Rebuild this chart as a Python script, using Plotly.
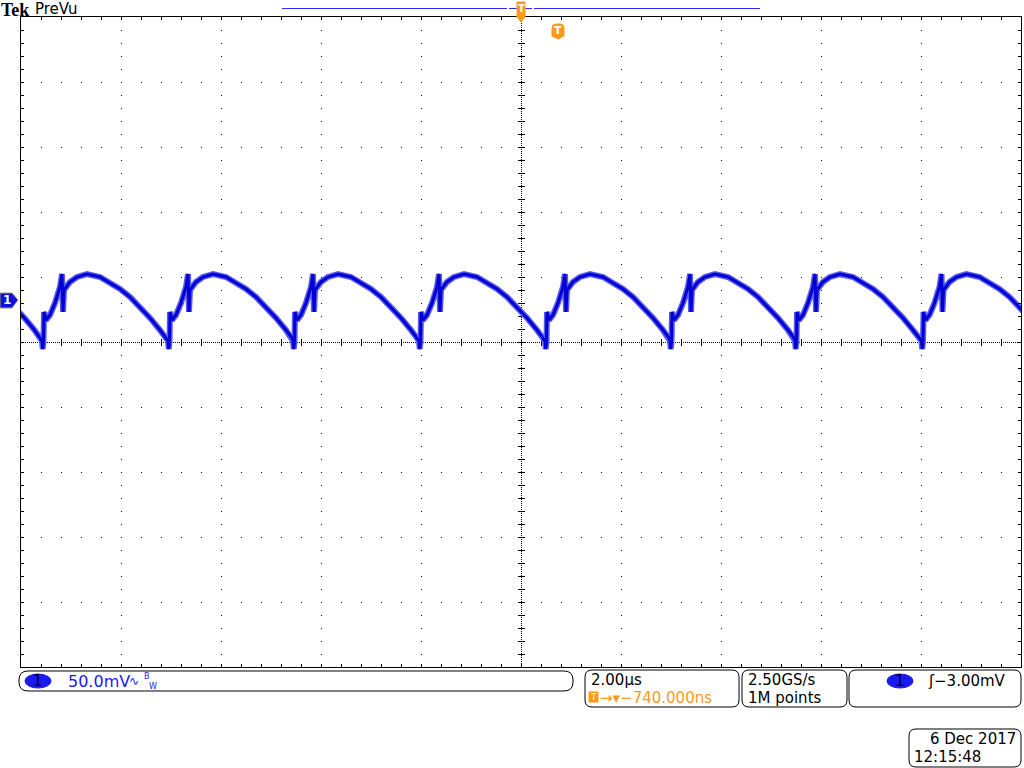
import plotly.graph_objects as go

# ---------------- data ----------------
TIME_PER_DIV_US = 2.0        # 2.00 µs/div, 10 divisions
MV_PER_DIV = 50.0            # 50.0 mV/div, 10 divisions
N_XDIV = 10
N_YDIV = 10
N_MINOR = 5

# one ripple cycle: time offset from a ripple minimum (µs) and level (mV, screen centre = 0)
cycle_dt_us = [0.000, 0.014, 0.030, 0.040, 0.080, 0.160, 0.260, 0.360, 0.400, 0.420,
               0.440, 0.560, 0.700, 0.900, 1.160, 1.360, 1.560, 1.760, 1.960, 2.160,
               2.360, 2.480]
cycle_mv = [0.8, -5.4, 0.0, 23.1, 16.9, 20.8, 30.0, 42.3, 52.3, 23.1,
            40.0, 46.2, 50.0, 52.3, 50.0, 45.4, 40.8, 34.6, 26.9, 18.5,
            9.2, 3.1]
# times of the ripple minima seen on screen (µs from screen centre)
minima_us = [-12.09, -9.58, -7.06, -4.56, -2.04, 0.48, 2.98, 5.48, 8.01, 10.52]

ch1_scale = "50.0mV"
timebase = "2.00µs"
trig_offset = "−740.000ns"
sample_rate = "2.50GS/s"
record_len = "1M points"
trig_level = "−3.00mV"
date_txt = "6 Dec 2017"
time_txt = "12:15:48"

# ---------------- build trace ----------------
t_us, v_mv = [], []
for m in minima_us:
    for dt, v in zip(cycle_dt_us, cycle_mv):
        t_us.append(m + dt)
        v_mv.append(v)

XR = TIME_PER_DIV_US * N_XDIV / 2
YR = MV_PER_DIV * N_YDIV / 2

L, T, W, H = 21, 17, 1000, 650
X_HALF = 0.5 * 2 * XR / W      # half a pixel in µs
Y_HALF = 0.5 * 2 * YR / H      # half a pixel in mV
XC, YC = X_HALF, -Y_HALF       # crisp centre lines


def P(x, y):
    return (x - L) / W, (T + H - y) / H


BLUE = "#1a1af2"
ORANGE = "#f89a1c"

fig = go.Figure()

# centre lines (dotted) as line traces
fig.add_trace(go.Scatter(x=[-XR, XR], y=[YC, YC], mode="lines", hoverinfo="skip",
                         line=dict(color="#000000", width=1, dash="1px,1px")))
fig.add_trace(go.Scatter(x=[XC, XC], y=[YR, -YR], mode="lines", hoverinfo="skip",
                         line=dict(color="#000000", width=1, dash="1px,1px")))

# centre-line minor crosses
xm = [(-XR + i * TIME_PER_DIV_US / N_MINOR) for i in range(1, N_XDIV * N_MINOR)]
ym = [(-YR + i * MV_PER_DIV / N_MINOR) for i in range(1, N_YDIV * N_MINOR)]
fig.add_trace(go.Scatter(x=[v + X_HALF for v in xm], y=[YC] * len(xm), mode="markers", hoverinfo="skip",
                         marker=dict(symbol="line-ns-open", size=5, color="#000000",
                                     line=dict(width=1, color="#000000"))))
fig.add_trace(go.Scatter(x=[XC] * len(ym), y=[v - Y_HALF for v in ym], mode="markers", hoverinfo="skip",
                         marker=dict(symbol="line-ew-open", size=5, color="#000000",
                                     line=dict(width=1, color="#000000"))))

# waveform (halo + core)
fig.add_trace(go.Scatter(x=t_us, y=v_mv, mode="lines", hoverinfo="skip",
                         line=dict(color="#5a5af0", width=6)))
fig.add_trace(go.Scatter(x=t_us, y=v_mv, mode="lines", hoverinfo="skip",
                         line=dict(color="#0000d2", width=3)))

shapes = []


def path(pts_px, close=True):
    s = ""
    for cmd, coords in pts_px:
        s += cmd
        parts = []
        for k in range(0, len(coords), 2):
            xp, yp = P(coords[k], coords[k + 1])
            parts.append(f"{xp:.5f},{yp:.5f}")
        s += " ".join(parts) + " "
    if close:
        s += "Z"
    return s


def rbox(x0, y0, x1, y1, r):
    return path([("M", (x0 + r, y0)), ("L", (x1 - r, y0)), ("Q", (x1, y0, x1, y0 + r)),
                 ("L", (x1, y1 - r)), ("Q", (x1, y1, x1 - r, y1)), ("L", (x0 + r, y1)),
                 ("Q", (x0, y1, x0, y1 - r)), ("L", (x0, y0 + r)), ("Q", (x0, y0, x0 + r, y0))])


def pshape(p, fill=None, line="black", lw=1):
    return dict(type="path", xref="paper", yref="paper", path=p,
                fillcolor=fill if fill else "rgba(0,0,0,0)",
                line=dict(color=line, width=lw), layer="above")


def ellipse(x0, y0, x1, y1, fill):
    a, b = P(x0, y1)
    c, d = P(x1, y0)
    return dict(type="circle", xref="paper", yref="paper", x0=a, y0=b, x1=c, y1=d,
                fillcolor=fill, line=dict(color=fill, width=1), layer="above")


def hline(x0, x1, y, color, w=1):
    a, b = P(x0, y)
    c, _ = P(x1, y)
    return dict(type="line", xref="paper", yref="paper", x0=a, x1=c, y0=b, y1=b,
                line=dict(color=color, width=w), layer="above")


# record bar at top
for a, b in [(282, 507), (509, 517), (525, 532), (534, 760)]:
    shapes.append(hline(a, b, 8.5, "#2a2aff"))
# trigger position marker at top
shapes.append(pshape(path([("M", (517, 2)), ("L", (525, 2)), ("L", (525, 17)),
                           ("L", (521, 22)), ("L", (517, 17))]), fill=ORANGE, line=ORANGE))
# trigger point badge
shapes.append(pshape(path([("M", (552, 28)), ("Q", (552, 24, 556, 24)), ("L", (560, 24)),
                           ("Q", (564, 24, 564, 28)), ("L", (564, 36)), ("L", (558, 39)),
                           ("L", (552, 36))]), fill=ORANGE, line=ORANGE))
# channel 1 ground marker
shapes.append(pshape(path([("M", (0, 293)), ("L", (12, 293)), ("L", (18, 300)),
                           ("L", (12, 308)), ("L", (0, 308))]), fill="#1010d8", line="#9a9a70"))

# status boxes
shapes.append(pshape(rbox(19, 671, 573, 691, 9)))
shapes.append(pshape(rbox(585, 670, 739, 707, 7)))
shapes.append(pshape(rbox(742, 670, 847, 707, 7)))
shapes.append(pshape(rbox(849, 670, 1021, 707, 7)))
shapes.append(pshape(rbox(909, 729, 1021, 767, 7)))
shapes.append(ellipse(25, 674, 51, 688, BLUE))
shapes.append(ellipse(887, 674, 913, 688, BLUE))
shapes.append(pshape(path([("M", (589, 692)), ("L", (598, 692)), ("L", (598, 702)),
                           ("L", (589, 702))]), fill=ORANGE, line=ORANGE))

ann = []


def text(s, x, y, size=15, color="black", family="DejaVu Sans", xanchor="left"):
    xp, yp = P(x, y)
    ann.append(dict(text=s, x=xp, y=yp, xref="paper", yref="paper", xanchor=xanchor,
                    yanchor="middle", showarrow=False, borderpad=0,
                    font=dict(size=size, color=color, family=family)))


text("<b>Tek</b>", 0, 9.5, size=18, family="Liberation Serif")
text("PreVu", 34, 8.5, size=15)
text("<b>T</b>", 521, 9, size=10, color="white", xanchor="center")
text("<b>T</b>", 558, 31, size=11, color="white", xanchor="center")
text("<b>1</b>", 7, 300, size=12, color="white", xanchor="center")

text("1", 38, 681, size=15, color="black", xanchor="center")
text(ch1_scale, 67, 681, size=16, color=BLUE)
text("∿", 128, 681, size=12, color=BLUE)
text("B", 143, 676, size=8, color=BLUE)
text("W", 148, 687, size=8, color=BLUE)

text(timebase, 590, 680, size=15)
text("T", 593.5, 697, size=9, color="white", xanchor="center")
text("→▾" + trig_offset, 599, 698, size=15, color=ORANGE)
text(sample_rate, 747, 680, size=15)
text(record_len, 747, 698, size=15)
text("1", 900, 681, size=15, color="black", xanchor="center")
text("ʃ" + trig_level, 927, 681, size=15)
text(date_txt, 1017, 739, size=15, xanchor="right")
text(time_txt, 913, 757, size=15)

fig.update_layout(
    width=1024, height=768,
    margin=dict(l=L, r=1024 - L - W, t=T, b=768 - T - H),
    paper_bgcolor="white", plot_bgcolor="white",
    showlegend=False,
    shapes=shapes, annotations=ann,
    xaxis=dict(range=[-XR, XR], showline=True, linecolor="black", linewidth=1, mirror="allticks",
               tickmode="linear", tick0=0, dtick=TIME_PER_DIV_US, ticks="inside", ticklen=3,
               tickcolor="black", showticklabels=False, zeroline=False,
               showgrid=True, gridcolor="black", gridwidth=1, griddash="1px,12px",
               minor=dict(dtick=TIME_PER_DIV_US / N_MINOR, tick0=0, ticks="inside", ticklen=3,
                          tickcolor="black", showgrid=False),
               fixedrange=True),
    yaxis=dict(range=[-YR, YR], showline=True, linecolor="black", linewidth=1, mirror="allticks",
               tickmode="linear", tick0=0, dtick=MV_PER_DIV, ticks="inside", ticklen=3,
               tickcolor="black", showticklabels=False, zeroline=False,
               showgrid=True, gridcolor="black", gridwidth=1, griddash="1px,19px",
               minor=dict(dtick=MV_PER_DIV / N_MINOR, tick0=0, ticks="inside", ticklen=3,
                          tickcolor="black", showgrid=False),
               fixedrange=True),
)

fig.write_html("out.html", config={"displayModeBar": False},
               post_script="document.body.style.margin='0px';document.body.style.overflow='hidden';")
